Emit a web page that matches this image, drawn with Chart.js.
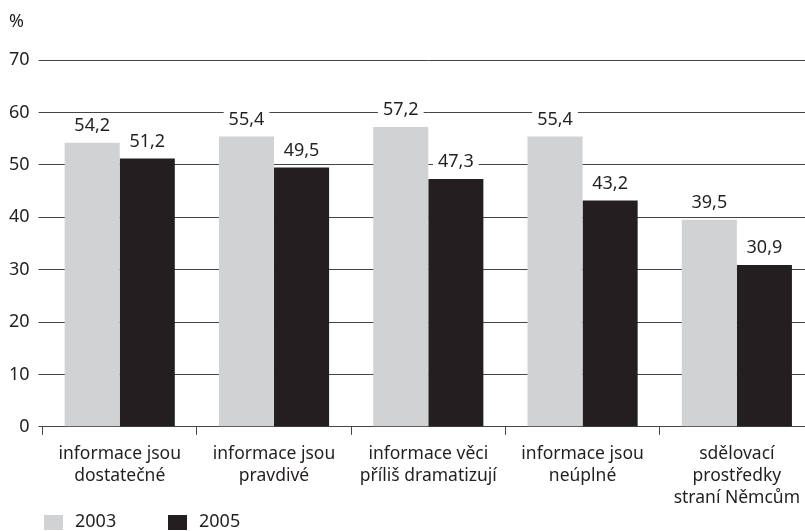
<!DOCTYPE html>
<html>
<head>
<meta charset="utf-8">
<script src="https://cdn.jsdelivr.net/npm/chart.js@4/dist/chart.umd.min.js"></script>
<style>
  html, body { margin: 0; padding: 0; background: #fff; overflow: hidden; width: 805px; height: 531px; }
  canvas { display: block; }
</style>
</head>
<body>
<canvas id="c" width="814" height="531"></canvas>
<script>
const categories = [
  ['informace jsou', 'dostatečné'],
  ['informace jsou', 'pravdivé'],
  ['informace věci', 'příliš dramatizují'],
  ['informace jsou', 'neúplné'],
  ['sdělovací', 'prostředky', 'straní Němcům']
];
const years = ['2003', '2005'];
const values2003 = [54.2, 55.4, 57.2, 55.4, 39.5];
const values2005 = [51.2, 49.5, 47.3, 43.2, 30.9];
const yTicks = [0, 10, 20, 30, 40, 50, 60, 70];
const unitLabel = '%';

const FONT = '"Noto Sans", sans-serif';
const TEXT = '#231f20';
const COLORS = ['#d1d2d4', '#231f20'];

const fmt = v => v.toFixed(1).replace('.', ',');

// value labels above each bar, on a white patch that interrupts the grid
const valueLabels = {
  id: 'valueLabels',
  afterDatasetsDraw(chart) {
    const ctx = chart.ctx;
    ctx.save();
    ctx.font = '18px ' + FONT;
    ctx.textAlign = 'center';
    ctx.textBaseline = 'middle';
    chart.data.datasets.forEach((ds, i) => {
      chart.getDatasetMeta(i).data.forEach((bar, j) => {
        const txt = fmt(ds.data[j]);
        const y = bar.y - 17;
        const w = ctx.measureText(txt).width;
        ctx.fillStyle = '#fff';
        ctx.fillRect(bar.x - w / 2 - 5, y - 9, w + 10, 17);
        ctx.fillStyle = TEXT;
        ctx.fillText(txt, bar.x, y);
      });
    });
    ctx.restore();
  }
};

// unit caption and legend
const extras = {
  id: 'extras',
  afterDraw(chart) {
    const ctx = chart.ctx;
    ctx.save();
    ctx.font = '18px ' + FONT;
    ctx.fillStyle = TEXT;
    ctx.textBaseline = 'middle';
    ctx.textAlign = 'left';
    ctx.fillText(unitLabel, 9, 22);
    const starts = [44, 168];
    chart.data.datasets.forEach((ds, i) => {
      const x = starts[i];
      ctx.fillStyle = ds.backgroundColor;
      ctx.fillRect(x, 515, 19, 15);
      ctx.fillStyle = TEXT;
      ctx.fillText(ds.label, x + 31, 522);
    });
    ctx.restore();
  }
};

new Chart(document.getElementById('c'), {
  type: 'bar',
  data: {
    labels: categories,
    datasets: [
      { label: years[0], data: values2003, backgroundColor: COLORS[0] },
      { label: years[1], data: values2005, backgroundColor: COLORS[1] }
    ]
  },
  options: {
    responsive: false,
    animation: false,
    categoryPercentage: 0.714,
    barPercentage: 1,
    layout: { padding: { top: 60, left: 0, right: 0, bottom: 14 } },
    plugins: { legend: { display: false }, tooltip: { enabled: false } },
    scales: {
      x: {
        offset: true,
        grid: { offset: true, drawOnChartArea: false, drawTicks: true, tickLength: 8, color: '#444', lineWidth: 1 },
        border: { display: true, color: '#444', width: 1 },
        ticks: { color: TEXT, font: { family: FONT, size: 17.5, lineHeight: 1.26 }, padding: 8, maxRotation: 0, autoSkip: false }
      },
      y: {
        min: 0, max: 70,
        afterBuildTicks(scale) { scale.ticks = yTicks.map(v => ({ value: v })); },
        grid: { color: '#444', lineWidth: 1, tickLength: 4, drawTicks: true },
        border: { display: false },
        ticks: { color: TEXT, font: { family: FONT, size: 18 }, padding: 9 }
      }
    }
  },
  plugins: [valueLabels, extras]
});
</script>
</body>
</html>
